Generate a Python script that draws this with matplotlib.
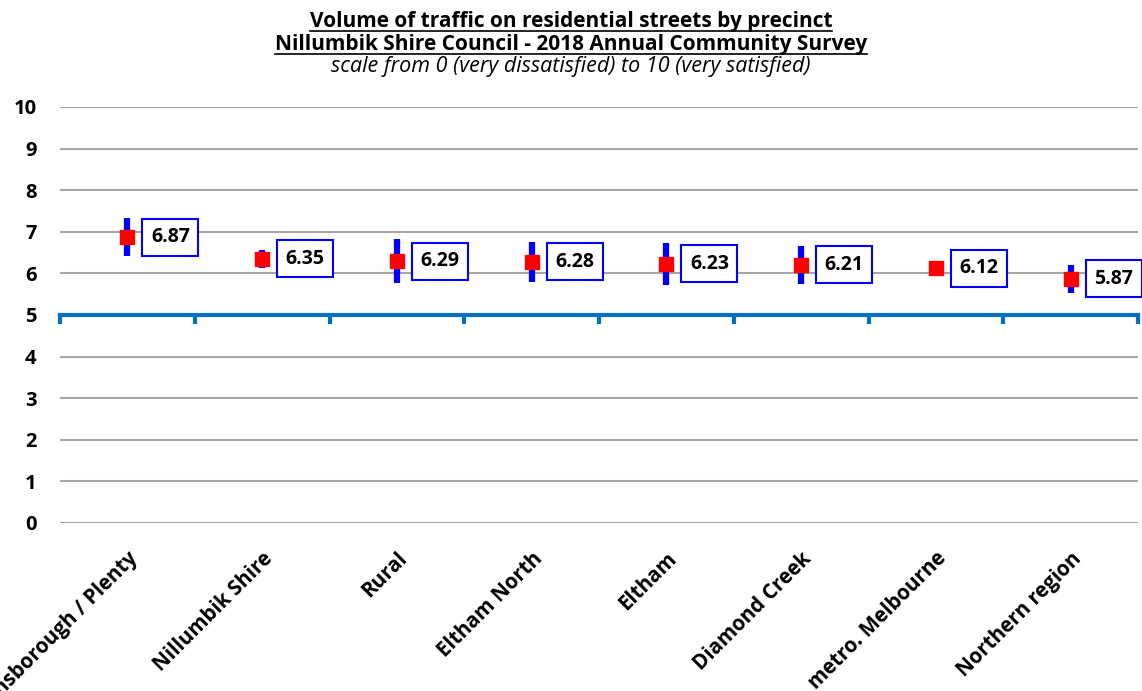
import matplotlib
matplotlib.use("Agg")
import matplotlib.pyplot as plt
import matplotlib.transforms as mtransforms
from matplotlib.lines import Line2D
import numpy as np

# Chart data
precincts = ["Greensborough / Plenty", "Nillumbik Shire", "Rural", "Eltham North",
             "Eltham", "Diamond Creek", "metro. Melbourne", "Northern region"]
scores = [6.87, 6.35, 6.29, 6.28, 6.23, 6.21, 6.12, 5.87]
ci = [0.45, 0.21, 0.53, 0.48, 0.50, 0.46, 0.08, 0.33]
yticks = list(range(0, 11))

title_lines = ["Volume of traffic on residential streets by precinct",
               "Nillumbik Shire Council - 2018 Annual Community Survey"]
subtitle = "scale from 0 (very dissatisfied) to 10 (very satisfied)"

FONT = "Open Sans"
AXIS_BLUE = "#0070C0"
W, H = 1142, 691

fig = plt.figure(figsize=(W / 100, H / 100), dpi=100)
ax = fig.add_axes([60 / W, 1 - 523 / H, 1078 / W, 416 / H])

x = np.arange(len(precincts))

# gridlines
for yv in yticks:
    ax.axhline(yv, color="#A6A6A6", lw=1.5, zorder=0)

# error bars + markers
ax.errorbar(x, scores, yerr=ci, fmt="none", ecolor="#0000FF", elinewidth=4.5, capsize=0, zorder=2)
ax.plot(x, scores, "s", color="#FF0000", markersize=9.5, zorder=3)

# value labels
for xi, v in zip(x, scores):
    ax.annotate(f"{v:.2f}", (xi, v), xytext=(31, 0), textcoords="offset points",
                ha="center", va="center", fontsize=14, fontweight="bold", family=FONT,
                bbox=dict(boxstyle="square,pad=0.44", fc="white", ec="#0000FF", lw=1.5),
                zorder=4)

ax.set_xlim(-0.5, len(precincts) - 0.5)
ax.set_ylim(0, 10)

for s in ["left", "right", "top"]:
    ax.spines[s].set_visible(False)
ax.spines["bottom"].set_position(("data", 5))
ax.spines["bottom"].set_color(AXIS_BLUE)
ax.spines["bottom"].set_linewidth(3)
ax.spines["bottom"].set_zorder(1)

ax.set_xticks(np.arange(-0.5, len(precincts), 1.0))
ax.set_xticklabels([])
ax.tick_params(axis="x", direction="out", length=6.5, width=3, color=AXIS_BLUE)

ax.set_yticks(yticks)
ax.set_yticklabels([str(t) for t in yticks], fontsize=14.5, fontweight="bold", family=FONT)
ax.tick_params(axis="y", length=0, pad=17)

# category labels below the plot
lab_trans = ax.transData + mtransforms.ScaledTranslation(0, -18 / 72, fig.dpi_scale_trans)
for xi, name in zip(x, precincts):
    ax.text(xi, 0, name, transform=lab_trans, rotation=45, rotation_mode="anchor",
            ha="right", va="top", fontsize=14.8, fontweight="bold", family=FONT, clip_on=False)

# titles
t1 = fig.text(0.5, 1 - 27 / H, title_lines[0], ha="center", va="baseline",
              fontsize=15, fontweight="bold", family=FONT)
t2 = fig.text(0.5, 1 - 50 / H, title_lines[1], ha="center", va="baseline",
              fontsize=15, fontweight="bold", family=FONT)
fig.text(0.5, 1 - 72 / H, subtitle, ha="center", va="baseline",
         fontsize=15.5, style="italic", family=FONT)

# underline the first two title lines
fig.canvas.draw()
r = fig.canvas.get_renderer()
for t in (t1, t2):
    bb = t.get_window_extent(r).transformed(fig.transFigure.inverted())
    yl = t.get_position()[1] - 3.5 / H
    fig.add_artist(Line2D([bb.x0, bb.x1], [yl, yl], transform=fig.transFigure, color="black", lw=1.2))

fig.savefig("out.png", dpi=100)
